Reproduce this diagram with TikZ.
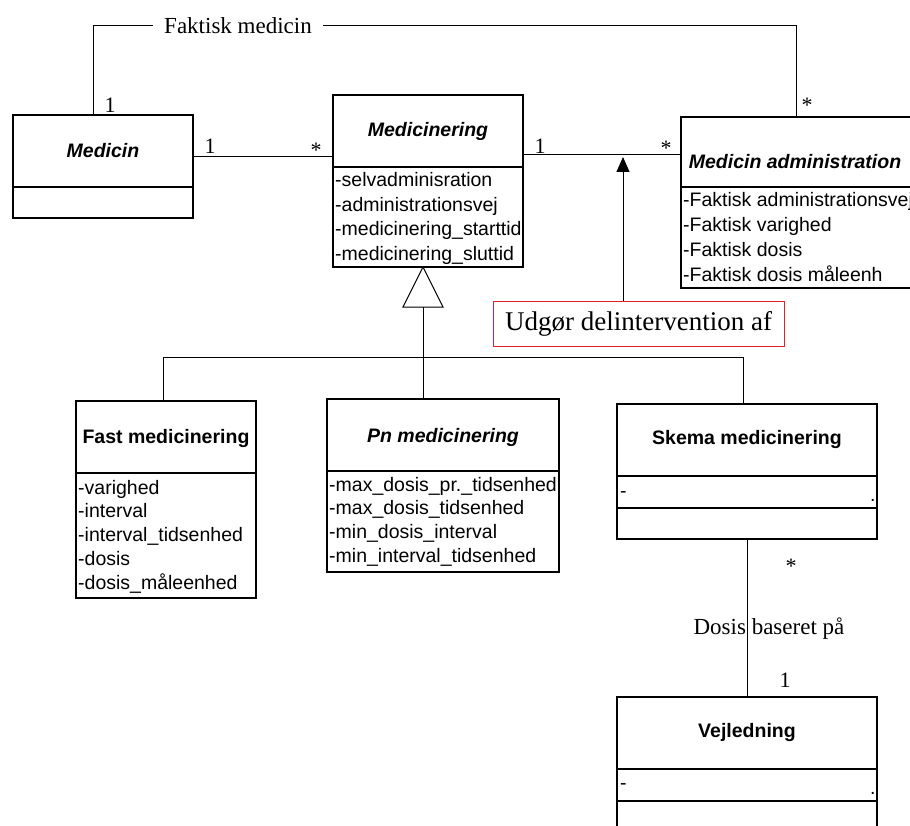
\documentclass[tikz,border=0pt]{standalone}
\usepackage{fontspec}
\setmainfont{Liberation Serif}
\setsansfont{Liberation Sans}
\usetikzlibrary{arrows.meta}
\definecolor{notered}{RGB}{228,32,44}

\begin{document}
\begin{tikzpicture}[x=1pt,y=-1pt,
  classbox/.style={draw, line width=1.2pt, inner sep=0pt},
  divider/.style={line width=1.2pt},
  link/.style={line width=1pt},
  title/.style={font=\sffamily\bfseries\fontsize{19.5}{22}\selectfont, inner sep=0pt},
  ititle/.style={font=\sffamily\bfseries\itshape\fontsize{19.5}{22}\selectfont, inner sep=0pt},
  attr/.style={font=\sffamily\fontsize{19.5}{22}\selectfont, anchor=base west, inner sep=0pt},
  mult/.style={font=\fontsize{22}{24}\selectfont, inner sep=0pt},
  role/.style={font=\fontsize{23}{26}\selectfont, inner sep=0pt},
]
\useasboundingbox (0,0) rectangle (910,826);
\clip (0,0) rectangle (910,826);

% ---------- classes ----------
\node[classbox, minimum width=180pt, minimum height=103pt] (medicin) at (103,166.5) {};
\draw[divider] (13,187) -- (193,187);
\node[ititle] (medicinT) at (103,151) {Medicin};

\node[classbox, minimum width=190pt, minimum height=172pt] (medicinering) at (428,181) {};
\draw[divider] (333,167) -- (523,167);
\node[ititle] (medicineringT) at (428,131) {Medicinering};
\foreach \t [count=\i] in {-selvadminisration,-administrationsvej,-medicinering\_starttid,-medicinering\_sluttid}
  \node[attr] (medicineringA\i) at (335,{187+(\i-1)*24.5}) {\t};

\node[classbox, minimum width=239pt, minimum height=171pt] (medadm) at (800.5,202.5) {};
\draw[divider] (681,187) -- (920,187);
\node[ititle] (medadmT) at (795,162) {Medicin administration};
\foreach \t [count=\i] in {-Faktisk administrationsvej,-Faktisk varighed,-Faktisk dosis,-Faktisk dosis måleenh}
  \node[attr] (medadmA\i) at (683,{207+(\i-1)*24.7}) {\t};

\node[classbox, minimum width=180pt, minimum height=197pt] (fast) at (166,499.5) {};
\draw[divider] (76,473) -- (256,473);
\node[title] (fastT) at (166,438) {Fast medicinering};
\foreach \t [count=\i] in {-varighed,-interval,-interval\_tidsenhed,-dosis,-dosis\_måleenhed}
  \node[attr] (fastA\i) at (78,{494+(\i-1)*23.75}) {\t};

\node[classbox, minimum width=232pt, minimum height=173pt] (pn) at (443,485.5) {};
\draw[divider] (327,471) -- (559,471);
\node[ititle] (pnT) at (443,437) {Pn medicinering};
\foreach \t [count=\i] in {-max\_dosis\_pr.\_tidsenhed,-max\_dosis\_tidsenhed,-min\_dosis\_interval,-min\_interval\_tidsenhed}
  \node[attr] (pnA\i) at (329,{491+(\i-1)*23.7}) {\t};

\node[classbox, minimum width=260pt, minimum height=135pt] (skema) at (747,471.5) {};
\draw[divider] (617,476) -- (877,476);
\draw[divider] (617,508) -- (877,508);
\node[title] (skemaT) at (747,439) {Skema medicinering};
\node[attr] (skemaA) at (620,497) {-};
\node[attr] (skemaB) at (870,501) {.};

\node[classbox, minimum width=260pt, minimum height=153pt] (vejl) at (747,773.5) {};
\draw[divider] (617,769) -- (877,769);
\draw[divider] (617,801) -- (877,801);
\node[title] (vejlT) at (747,732) {Vejledning};
\node[attr] (vejlA) at (620,789) {-};
\node[attr] (vejlB) at (870,794) {.};

% ---------- note ----------
\node[draw=notered, line width=0.9pt, minimum width=291pt, minimum height=45pt,
      inner sep=0pt, font=\fontsize{27}{30}\selectfont] (note) at (638.5,323.5) {Udgør delintervention af};

% ---------- associations ----------
\coordinate (fmL) at (93,26);
\coordinate (fmR) at (796,26);
\draw[link] (medicin.north -| fmL) -- (fmL) -- (fmR) -- (medadm.north -| fmR);
\node[role, fill=white, inner xsep=11pt, inner ysep=3pt] (fmLabel) at (238,26) {Faktisk medicin};
\node[mult] (m1) at (110,105) {1};
\node[mult] (m2) at (807,105) {*};

\coordinate (rowA) at (0,157);
\draw[link] (medicin.east |- rowA) -- (medicinering.west |- rowA);
\node[mult] (m3) at (210,146) {1};
\node[mult] (m4) at (316,150) {*};

\coordinate (rowB) at (0,155);
\draw[link] (medicinering.east |- rowB) -- (medadm.west |- rowB);
\node[mult] (m5) at (540,146) {1};
\node[mult] (m6) at (666,148) {*};

\coordinate (tip) at (623,157);
\draw[link, -{Triangle[width=13pt,length=15pt]}] (note.north -| tip) -- (tip);

% ---------- generalisation ----------
\coordinate (gx) at (423,0);
\coordinate (apex) at (423,267);
\coordinate (tribase) at (423,307);
\draw[link, fill=white] (apex) -- (443,307) -- (403,307) -- cycle;
\draw[link] (tribase) -- (pn.north -| gx);
\coordinate (bus) at (0,357);
\coordinate (fx) at (163,0);
\coordinate (sx) at (743,0);
\draw[link] (fast.north -| fx) -- (fx |- bus) -- (sx |- bus) -- (skema.north -| sx);

% ---------- dose basis ----------
\coordinate (vx) at (747,0);
\draw[link] (skema.south -| vx) -- (vejl.north -| vx);
\node[mult] (m7) at (791,566) {*};
\node[role] (dosisLabel) at (769,629) {Dosis baseret på};
\node[mult] (m8) at (785,680) {1};

\end{tikzpicture}
\end{document}
